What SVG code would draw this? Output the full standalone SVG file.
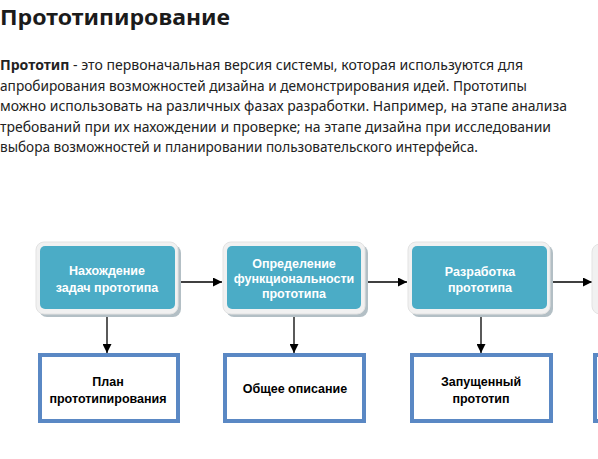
<svg xmlns="http://www.w3.org/2000/svg" width="598" height="459" viewBox="0 0 598 459">
<defs>
<style>
.title{font-family:"Noto Sans","Open Sans",sans-serif;font-weight:bold;font-size:21px;fill:#1b1b1b}
.para{font-family:"Noto Sans","Open Sans",sans-serif;font-size:14.5px;fill:#222}
.para .b{font-weight:bold}
.shadow{fill:#b3bfc5}
.frame{fill:#f1f1f1;stroke:#e3e3e3;stroke-width:1}
.teal{fill:#4bacc6}
.wt{font-family:"Liberation Sans",Arial,sans-serif;font-weight:bold;font-size:12.5px;fill:#fff;text-anchor:middle}
.out{fill:#fff;stroke:#5a88c4;stroke-width:4}
.bt{font-family:"Liberation Sans",Arial,sans-serif;font-weight:bold;font-size:12.5px;fill:#000;text-anchor:middle}
.conn{stroke:#000;stroke-width:1.3;fill:none;marker-end:url(#ah)}
</style>
<marker id="ah" viewBox="0 0 10 10" refX="10" refY="5" markerWidth="9" markerHeight="9" markerUnits="userSpaceOnUse" orient="auto">
<path d="M0,0 L10,5 L0,10 z" fill="#000"/>
</marker>
</defs>
<rect width="598" height="459" fill="#fff"/>
<text class="title" x="0" y="25" textLength="230" lengthAdjust="spacingAndGlyphs">Прототипирование</text>
<g class="para">
<text x="0" y="70" textLength="523" lengthAdjust="spacingAndGlyphs"><tspan class="b">Прототип</tspan> - это первоначальная версия системы, которая используются для</text>
<text x="0" y="91" textLength="527" lengthAdjust="spacingAndGlyphs">апробирования возможностей дизайна и демонстрирования идей. Прототипы</text>
<text x="0" y="111" textLength="567" lengthAdjust="spacingAndGlyphs">можно использовать на различных фазах разработки. Например, на этапе анализа</text>
<text x="0" y="132" textLength="551" lengthAdjust="spacingAndGlyphs">требований при их нахождении и проверке; на этапе дизайна при исследовании</text>
<text x="0" y="152" textLength="478" lengthAdjust="spacingAndGlyphs">выбора возможностей и планировании пользовательского интерфейса.</text>
</g>
<g id="connectors">
<line class="conn" x1="179" y1="282" x2="222" y2="282"/>
<line class="conn" x1="366" y1="282" x2="407" y2="282"/>
<line class="conn" x1="553" y1="282" x2="592" y2="282"/>
<line class="conn" x1="107" y1="317" x2="107" y2="353"/>
<line class="conn" x1="294" y1="317" x2="294" y2="353"/>
<line class="conn" x1="481" y1="317" x2="481" y2="353"/>
</g>
<g id="n1">
<rect class="shadow" x="39" y="245" width="142" height="72" rx="8"/>
<rect class="frame" x="36" y="242" width="142" height="72" rx="8"/>
<rect class="teal" x="40" y="246" width="135" height="63" rx="5"/>
<text class="wt" x="107" y="275">Нахождение</text>
<text class="wt" x="107" y="292">задач прототипа</text>
</g>
<g id="n2">
<rect class="shadow" x="226" y="245" width="142" height="72" rx="8"/>
<rect class="frame" x="223" y="242" width="142" height="72" rx="8"/>
<rect class="teal" x="227" y="246" width="134" height="63" rx="5"/>
<text class="wt" x="294" y="268">Определение</text>
<text class="wt" x="294" y="283">функциональности</text>
<text class="wt" x="294" y="298">прототипа</text>
</g>
<g id="n3">
<rect class="shadow" x="411" y="245" width="142" height="72" rx="8"/>
<rect class="frame" x="408" y="242" width="142" height="72" rx="8"/>
<rect class="teal" x="412" y="246" width="135" height="63" rx="5"/>
<text class="wt" x="480" y="276">Разработка</text>
<text class="wt" x="480" y="292">прототипа</text>
</g>
<g id="n4">
<rect class="frame" x="592" y="244" width="142" height="70" rx="8"/>
</g>
<g id="o1">
<rect class="out" x="40" y="355" width="138" height="66"/>
<text class="bt" x="108" y="386">План</text>
<text class="bt" x="108" y="403">прототипирования</text>
</g>
<g id="o2">
<rect class="out" x="225" y="355" width="139" height="66"/>
<text class="bt" x="295" y="393">Общее описание</text>
</g>
<g id="o3">
<rect class="out" x="412" y="355" width="139" height="66"/>
<text class="bt" x="481" y="386">Запущенный</text>
<text class="bt" x="481" y="403">прототип</text>
</g>
<g id="o4">
<rect class="out" x="595" y="355" width="139" height="66"/>
</g>
</svg>
